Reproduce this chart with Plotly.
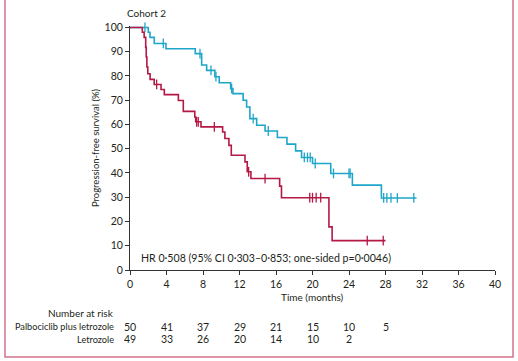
import plotly.graph_objects as go

# ---- data ----
blue_t = [0, 2.0, 2.19, 2.66, 3.94, 7.15, 7.85, 8.4, 9.3, 9.78, 11.03, 11.28, 12.4, 12.78,
          13.14, 13.88, 14.8, 16.15, 17.2, 18.15, 18.8, 20.0, 22.0, 24.37, 27.55]
blue_s = [100, 98.0, 95.9, 93.4, 91.2, 89.2, 84.5, 82.3, 79.7, 77.2, 74.8, 72.7, 70.0, 67.2,
          62.4, 59.7, 57.3, 54.6, 51.9, 49.1, 46.4, 43.9, 39.8, 35.0, 29.7]
blue_end = 31.4
blue_cens = [1.64, 3.65, 7.67, 8.87, 9.42, 11.14, 13.5, 15.15, 19.1, 19.45, 19.75, 20.3,
             22.3, 24.0, 24.12, 27.8, 28.15, 28.6, 29.3, 31.1]

red_t = [0, 1.35, 1.55, 1.72, 1.78, 1.85, 1.95, 2.2, 2.65, 3.4, 3.76, 5.3, 5.84, 7.1, 7.2,
         7.78, 10.15, 10.4, 10.84, 11.1, 12.6, 12.85, 13.25, 16.4, 16.6, 21.8, 22.15]
red_s = [100, 98.0, 95.9, 91.8, 87.8, 83.7, 80.9, 78.6, 76.5, 74.4, 72.3, 69.9, 65.4, 63.1, 61.1,
         59.0, 56.9, 54.2, 51.4, 47.3, 44.6, 40.5, 37.7, 34.6, 29.8, 17.8, 12.1]
red_end = 28.0
red_cens = [2.92, 7.3, 7.48, 9.24, 13.0, 14.8, 19.7, 20.0, 20.4, 20.9, 26.0, 27.75]

risk_times = [0, 4, 8, 12, 16, 20, 24, 28]
risk_palbo = [50, 41, 37, 29, 21, 15, 10, 5]
risk_letro = [49, 33, 26, 20, 14, 10, 2]

x_ticks = list(range(0, 41, 4))
y_ticks = list(range(0, 101, 10))

BLUE = "#1ea6c9"
RED = "#b51845"
TXT = "#231f20"
FONT = "Lato"


def step_value(ts, ss, t):
    v = ss[0]
    for ti, si in zip(ts, ss):
        if ti <= t:
            v = si
    return v


fig = go.Figure()
for ts, ss, end, cens, col, name in [
    (blue_t, blue_s, blue_end, blue_cens, BLUE, "Palbociclib plus letrozole"),
    (red_t, red_s, red_end, red_cens, RED, "Letrozole"),
]:
    fig.add_trace(go.Scatter(x=ts + [end], y=ss + [ss[-1]], mode="lines",
                             line=dict(color=col, width=1.6, shape="hv"),
                             name=name, showlegend=False, hoverinfo="skip"))
    fig.add_trace(go.Scatter(x=cens, y=[step_value(ts, ss, c) for c in cens], mode="markers",
                             marker=dict(symbol="line-ns", size=7, color=col,
                                         line=dict(color=col, width=1.3)),
                             showlegend=False, hoverinfo="skip", cliponaxis=False))

W, H = 518, 361
left, right = 130, 495
y0px, y100px = 270, 27.3
yrange_top = 100.6
plot_h = (y0px - y100px) * yrange_top / 100
top = y0px - plot_h
ml, mr, mt, mb = left, W - right, top, H - y0px


def py(p):  # pixel y -> paper y
    return (y0px - p) / plot_h


def px(p):  # pixel x -> paper x
    return (p - left) / (right - left)


ann = []
ann.append(dict(text="Cohort 2", x=px(125), y=py(13), xref="paper", yref="paper",
                xanchor="left", yanchor="middle", showarrow=False,
                font=dict(size=10, color=TXT, family=FONT)))
ann.append(dict(text="HR 0·508 (95% CI 0·303–0·853; one-sided p=0·0046)", x=px(139), y=py(258),
                xref="paper", yref="paper", xanchor="left", yanchor="middle", showarrow=False,
                font=dict(size=10.6, color=TXT, family=FONT)))
ann.append(dict(text="Progression-free survival (%)", x=px(95), y=py(148), xref="paper",
                yref="paper", xanchor="center", yanchor="middle", textangle=-90, showarrow=False,
                font=dict(size=9.5, color=TXT, family=FONT)))
ann.append(dict(text="Time (months)", x=20, y=py(297), xref="x", yref="paper",
                xanchor="center", yanchor="middle", showarrow=False,
                font=dict(size=10, color=TXT, family=FONT)))
ann.append(dict(text="Number at risk", x=px(116), y=py(313), xref="paper", yref="paper",
                xanchor="right", yanchor="middle", showarrow=False,
                font=dict(size=10, color=TXT, family=FONT)))
for label, vals, ypx in [("Palbociclib plus letrozole", risk_palbo, 326.7),
                         ("Letrozole", risk_letro, 339.3)]:
    ann.append(dict(text=label, x=px(116), y=py(ypx), xref="paper", yref="paper",
                    xanchor="right", yanchor="middle", showarrow=False,
                    font=dict(size=9.2, color=TXT, family=FONT)))
    for t, v in zip(risk_times, vals):
        ann.append(dict(text=str(v), x=t, y=py(ypx), xref="x", yref="paper",
                        xanchor="center", yanchor="middle", showarrow=False,
                        font=dict(size=10.5, color=TXT, family=FONT)))

fig.update_layout(
    width=W, height=H,
    margin=dict(l=ml, r=mr, t=mt, b=mb, pad=0),
    paper_bgcolor="white", plot_bgcolor="white",
    annotations=ann,
    shapes=[dict(type="rect", xref="paper", yref="paper",
                 x0=px(5), x1=px(513), y0=py(357), y1=py(-5),
                 line=dict(color="#d4738b", width=1.5), fillcolor="rgba(0,0,0,0)", layer="below")],
    xaxis=dict(range=[0, 40], tickvals=x_ticks, ticktext=[str(v) for v in x_ticks],
               showgrid=False, zeroline=False, showline=True, linecolor="#333333", linewidth=1,
               ticks="outside", ticklen=4, tickcolor="#333333", tickwidth=1,
               tickfont=dict(size=10.5, color=TXT, family=FONT)),
    yaxis=dict(range=[0, yrange_top], tickvals=y_ticks, ticktext=[str(v) for v in y_ticks],
               showgrid=False, zeroline=False, showline=True, linecolor="#333333", linewidth=1,
               ticks="outside", ticklen=4, tickcolor="#333333", tickwidth=1,
               tickfont=dict(size=10.5, color=TXT, family=FONT)),
)

fig.write_html("out.html", config={"displayModeBar": False},
               post_script="document.body.style.margin='0';document.body.style.overflow='hidden';")
